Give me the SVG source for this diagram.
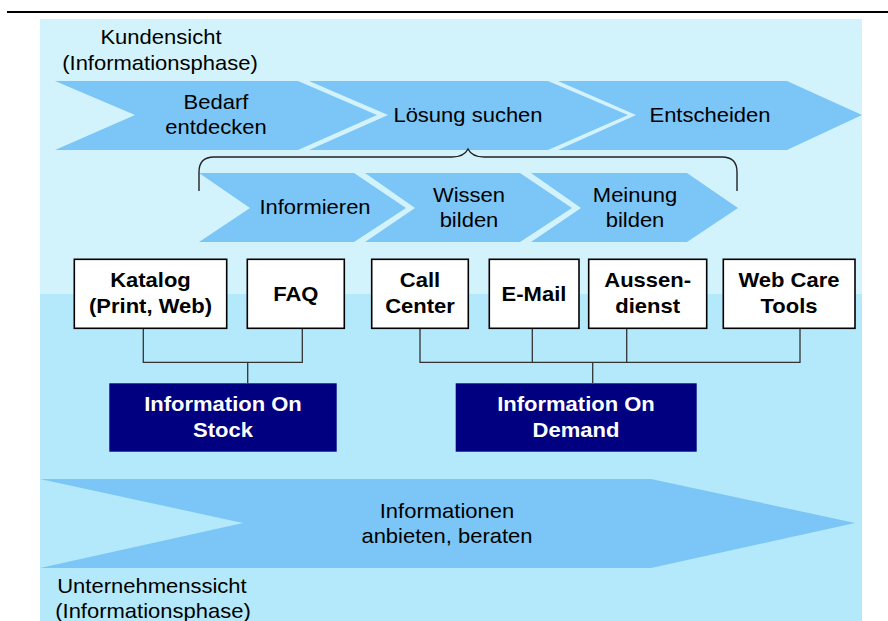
<svg xmlns="http://www.w3.org/2000/svg" width="888" height="621" viewBox="0 0 888 621">
<style>
text{transform-box:fill-box;transform-origin:center;transform:scaleX(1.1)}
.t{font-family:"Liberation Sans",Arial,sans-serif;font-size:20px;fill:#000;text-anchor:middle}
.b{font-family:"Liberation Sans",Arial,sans-serif;font-size:20px;font-weight:bold;fill:#000;text-anchor:middle}
.w{font-family:"Liberation Sans",Arial,sans-serif;font-size:20px;font-weight:bold;fill:#fff;text-anchor:middle}
.chev{fill:#7BC6F7}
.box{fill:#fff;stroke:#000;stroke-width:1.6}
.navy{fill:#000080}
.con{fill:none;stroke:#333;stroke-width:1.3}
</style>
<rect width="888" height="621" fill="#fff"/>
<line x1="7" y1="12" x2="888" y2="12" stroke="#000" stroke-width="2.2"/>
<rect x="40" y="19" width="822" height="275" fill="#D3F3FC"/>
<rect x="40" y="294" width="822" height="327" fill="#B3E9FA"/>

<g id="chev-bedarf">
<polygon class="chev" points="55,81 298,81 377,115 298,150 55,150 135,115"/>
<text class="t" x="216" y="109">Bedarf</text>
<text class="t" x="216" y="134">entdecken</text>
</g>
<g id="chev-loesung">
<polygon class="chev" points="309,81 548,81 628,115 548,150 309,150 388,115"/>
<text class="t" x="468" y="122">Lösung suchen</text>
</g>
<g id="chev-entscheiden">
<polygon class="chev" points="558,81 787,81 862,115 787,150 558,150 636,115"/>
<text class="t" x="710" y="122">Entscheiden</text>
</g>

<g id="label-kunde">
<text class="t" x="161" y="44">Kundensicht</text>
<text class="t" x="160" y="70">(Informationsphase)</text>
</g>

<g id="chev-informieren">
<polygon class="chev" points="199,173 354,173 406,208 354,242 199,242 250,208"/>
<text class="t" x="315" y="214">Informieren</text>
</g>
<g id="chev-wissen">
<polygon class="chev" points="365,173 520,173 572,208 520,242 365,242 415,208"/>
<text class="t" x="469" y="202">Wissen</text>
<text class="t" x="469" y="227">bilden</text>
</g>
<g id="chev-meinung">
<polygon class="chev" points="531,173 687,173 738,208 687,242 531,242 581,208"/>
<text class="t" x="635" y="202">Meinung</text>
<text class="t" x="635" y="227">bilden</text>
</g>

<g id="connectors">
<path d="M199,191 V172 Q199,157 214,157 H452 Q464,157 468,149 Q472,157 484,157 H722 Q737,157 737,172 V191" fill="none" stroke="#222" stroke-width="1.4"/>
<path class="con" d="M143.3,328 V362.3 H302.3 V328 M247.7,362.3 V383"/>
<path class="con" d="M420,328 V362.3 H800 V328 M532.3,328 V362.3 M626.7,328 V362.3 M592.7,362.3 V383"/>
</g>

<g id="box-katalog">
<rect class="box" x="74.3" y="259.3" width="152.4" height="69"/>
<text class="b" x="150.5" y="287">Katalog</text>
<text class="b" x="150.5" y="313">(Print, Web)</text>
</g>
<g id="box-faq">
<rect class="box" x="247.3" y="259.3" width="97" height="69"/>
<text class="b" x="295.8" y="301">FAQ</text>
</g>
<g id="box-callcenter">
<rect class="box" x="371.7" y="259.3" width="96.6" height="69"/>
<text class="b" x="420" y="287">Call</text>
<text class="b" x="420" y="313">Center</text>
</g>
<g id="box-email">
<rect class="box" x="489.3" y="259.3" width="89.7" height="69"/>
<text class="b" x="534" y="301">E-Mail</text>
</g>
<g id="box-aussendienst">
<rect class="box" x="588.7" y="259.3" width="118" height="69"/>
<text class="b" x="647.7" y="287">Aussen-</text>
<text class="b" x="647.7" y="313">dienst</text>
</g>
<g id="box-webcare">
<rect class="box" x="723.3" y="259.3" width="131.7" height="69"/>
<text class="b" x="789" y="287">Web Care</text>
<text class="b" x="789" y="313">Tools</text>
</g>

<g id="box-stock">
<rect class="navy" x="109.3" y="383.3" width="227.4" height="68.4"/>
<text class="w" x="223" y="411">Information On</text>
<text class="w" x="223" y="437">Stock</text>
</g>
<g id="box-demand">
<rect class="navy" x="455.7" y="383.3" width="241" height="68.4"/>
<text class="w" x="576" y="411">Information On</text>
<text class="w" x="576" y="437">Demand</text>
</g>

<g id="chev-anbieten">
<polygon class="chev" points="40,479 651,479 855,523 651,568 40,568 243,523"/>
<text class="t" x="447" y="518">Informationen</text>
<text class="t" x="447" y="543">anbieten, beraten</text>
</g>

<g id="label-unternehmen">
<text class="t" x="152" y="593">Unternehmenssicht</text>
<text class="t" x="153" y="618">(Informationsphase)</text>
</g>
</svg>
